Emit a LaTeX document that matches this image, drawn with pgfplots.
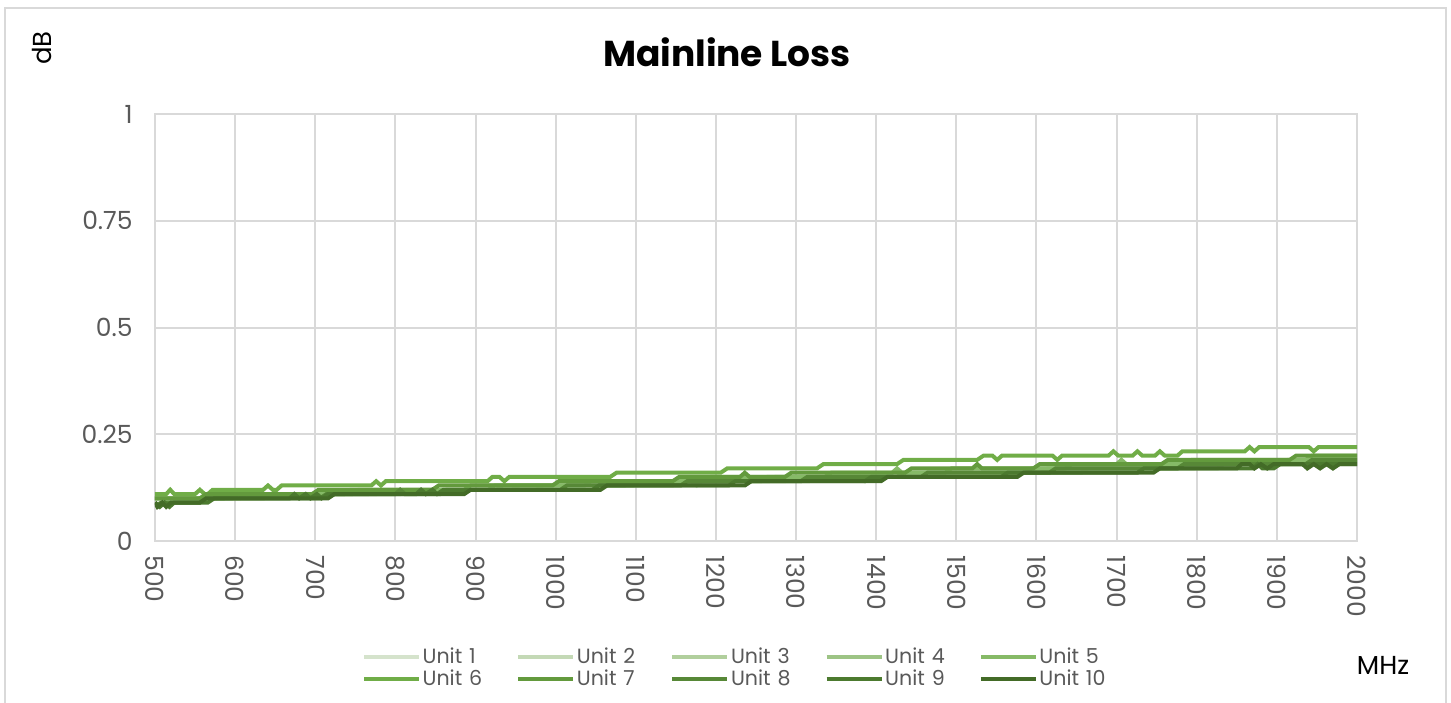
\documentclass[border=0pt]{standalone}
\usepackage{fontspec}
\setmainfont{Poppins}
\usepackage{pgfplots}
\pgfplotsset{compat=1.18}
\definecolor{gridc}{HTML}{D9D9D9}
\definecolor{tickc}{HTML}{595959}
\definecolor{u1}{HTML}{D5E3CC}
\definecolor{u2}{HTML}{C4D9B6}
\definecolor{u3}{HTML}{B1CF9D}
\definecolor{u4}{HTML}{9DC485}
\definecolor{u5}{HTML}{86BA67}
\definecolor{u6}{HTML}{70AD47}
\definecolor{u7}{HTML}{639A3D}
\definecolor{u8}{HTML}{578837}
\definecolor{u9}{HTML}{4C7A2F}
\definecolor{u10}{HTML}{436B27}
\begin{document}
\begin{tikzpicture}
\useasboundingbox (-77.5pt,-80.5pt) rectangle (648pt,270.5pt);
\draw[gridc, line width=0.75pt] (-75pt,-82pt) -- (-75pt,266.5pt) -- (645.5pt,266.5pt) -- (645.5pt,-82pt);
\begin{axis}[
 scale only axis, width=601pt, height=213.5pt,
 xmin=500, xmax=2000, ymin=0, ymax=1,
 xtick={500,600,...,2000}, ytick={0,0.25,0.5,0.75,1},
 grid=major, major grid style={gridc, line width=1pt},
 axis line style={gridc, line width=1pt},
 major tick length=0pt,
 tick label style={font=\fontsize{12.5}{14}\selectfont, text=tickc},
 /pgf/number format/assume math mode=true,
 /pgf/number format/1000 sep={},
 xticklabel style={rotate=-90, anchor=west, inner xsep=7pt},
 yticklabel style={anchor=east, inner xsep=11pt},
 legend columns=5,
 legend style={at={(axis description cs:0.4933,-0.2974)}, anchor=center, draw=none, fill=none,
   font=\fontsize{10.3}{11}\selectfont, text=tickc, row sep=2pt, column sep=0pt,
   nodes={text width=46pt, inner sep=1pt, text height=7pt, text depth=0pt}},
 legend image code/.code={\draw[#1, line width=1.6pt] (0pt,0pt) -- (27.5pt,0pt);},
 every axis plot/.append style={line width=2pt},
]
\addplot[u1] coordinates {(500,0.10)(606,0.10)(614,0.11)(776,0.11)(784,0.12)(946,0.12)(954,0.13)(1116,0.13)(1124,0.14)(1170,0.14)(1176,0.13)(1182,0.14)(1286,0.14)(1294,0.15)(1380,0.15)(1386,0.14)(1394,0.15)(1456,0.15)(1464,0.16)(1626,0.16)(1634,0.17)(1796,0.17)(1804,0.18)(1936,0.18)(1944,0.19)(2000,0.19)};
\addlegendentry{Unit 1}
\addplot[u2] coordinates {(500,0.10)(636,0.10)(644,0.11)(806,0.11)(814,0.12)(976,0.12)(984,0.13)(1146,0.13)(1154,0.14)(1316,0.14)(1324,0.15)(1486,0.15)(1494,0.16)(1656,0.16)(1664,0.17)(1826,0.17)(1834,0.18)(1960,0.18)(1968,0.19)(2000,0.19)};
\addlegendentry{Unit 2}
\addplot[u3] coordinates {(500,0.10)(596,0.10)(604,0.11)(766,0.11)(774,0.12)(926,0.12)(934,0.13)(1096,0.13)(1104,0.14)(1266,0.14)(1274,0.15)(1436,0.15)(1444,0.16)(1606,0.16)(1614,0.17)(1776,0.17)(1784,0.18)(1946,0.18)(1954,0.19)(2000,0.19)};
\addlegendentry{Unit 3}
\addplot[u4] coordinates {(500,0.10)(576,0.10)(584,0.11)(746,0.11)(754,0.12)(916,0.12)(924,0.13)(1086,0.13)(1094,0.14)(1256,0.14)(1264,0.15)(1426,0.15)(1434,0.16)(1586,0.16)(1594,0.17)(1746,0.17)(1754,0.18)(1906,0.18)(1914,0.19)(2000,0.19)};
\addlegendentry{Unit 4}
\addplot[u5] coordinates {(500,0.10)(586,0.10)(594,0.11)(736,0.11)(744,0.12)(886,0.12)(894,0.13)(1036,0.13)(1044,0.14)(1186,0.14)(1194,0.15)(1336,0.15)(1344,0.16)(1420,0.16)(1426,0.17)(1432,0.16)(1486,0.16)(1494,0.17)(1636,0.17)(1644,0.18)(1700,0.18)(1706,0.19)(1712,0.18)(1786,0.18)(1794,0.19)(1936,0.19)(1944,0.20)(2000,0.20)};
\addlegendentry{Unit 5}
\addplot[u6] coordinates {(500,0.11)(514,0.11)(519,0.12)(524,0.11)(550,0.11)(556,0.12)(562,0.11)(566,0.11)(572,0.12)(635,0.12)(641,0.13)(647,0.12)(652,0.12)(658,0.13)(770,0.13)(776,0.14)(782,0.13)(788,0.14)(915,0.14)(921,0.15)(930,0.15)(936,0.14)(942,0.15)(1068,0.15)(1076,0.16)(1206,0.16)(1214,0.17)(1326,0.17)(1334,0.18)(1426,0.18)(1434,0.19)(1526,0.19)(1534,0.20)(1545,0.20)(1551,0.19)(1557,0.20)(1620,0.20)(1626,0.19)(1632,0.20)(1690,0.20)(1696,0.21)(1702,0.20)(1720,0.20)(1726,0.21)(1732,0.20)(1748,0.20)(1754,0.21)(1760,0.20)(1776,0.20)(1782,0.21)(1860,0.21)(1866,0.22)(1872,0.21)(1878,0.22)(1940,0.22)(1946,0.21)(1952,0.22)(2000,0.22)};
\addlegendentry{Unit 6}
\addplot[u7] coordinates {(500,0.10)(556,0.10)(564,0.11)(696,0.11)(704,0.12)(846,0.12)(854,0.13)(996,0.13)(1004,0.14)(1146,0.14)(1154,0.15)(1230,0.15)(1236,0.16)(1242,0.15)(1286,0.15)(1294,0.16)(1436,0.16)(1444,0.17)(1520,0.17)(1526,0.18)(1532,0.17)(1596,0.17)(1604,0.18)(1756,0.18)(1764,0.19)(1916,0.19)(1924,0.20)(2000,0.20)};
\addlegendentry{Unit 7}
\addplot[u8] coordinates {(500,0.09)(503,0.085)(508,0.09)(556,0.09)(564,0.10)(706,0.10)(714,0.11)(800,0.11)(806,0.12)(812,0.11)(856,0.11)(864,0.12)(1006,0.12)(1014,0.13)(1156,0.13)(1164,0.14)(1306,0.14)(1314,0.15)(1456,0.15)(1464,0.16)(1616,0.16)(1624,0.17)(1776,0.17)(1784,0.18)(1936,0.18)(1944,0.19)(2000,0.19)};
\addlegendentry{Unit 8}
\addplot[u9] coordinates {(500,0.09)(506,0.08)(512,0.09)(518,0.08)(524,0.09)(566,0.09)(574,0.10)(668,0.10)(674,0.11)(680,0.10)(688,0.11)(694,0.10)(702,0.11)(708,0.10)(716,0.11)(826,0.11)(832,0.12)(838,0.11)(846,0.12)(852,0.11)(860,0.12)(1046,0.12)(1054,0.13)(1216,0.13)(1224,0.14)(1386,0.14)(1394,0.15)(1556,0.15)(1564,0.16)(1726,0.16)(1734,0.17)(1870,0.17)(1876,0.18)(1882,0.17)(1896,0.17)(1904,0.18)(2000,0.18)};
\addlegendentry{Unit 9}
\addplot[u10] coordinates {(500,0.09)(503,0.08)(509,0.09)(514,0.08)(520,0.09)(556,0.09)(564,0.10)(716,0.10)(724,0.11)(886,0.11)(894,0.12)(1056,0.12)(1064,0.13)(1236,0.13)(1244,0.14)(1406,0.14)(1414,0.15)(1576,0.15)(1584,0.16)(1746,0.16)(1754,0.17)(1850,0.17)(1856,0.18)(1866,0.18)(1872,0.17)(1880,0.18)(1888,0.17)(1896,0.18)(1932,0.18)(1938,0.17)(1946,0.18)(1954,0.17)(1962,0.18)(1970,0.17)(1978,0.18)(2000,0.18)};
\addlegendentry{Unit 10}
\end{axis}
\node[font=\bfseries\fontsize{18}{20}\selectfont] at (286pt,244.5pt) {Mainline Loss};
\node[rotate=90, font=\fontsize{13}{15}\selectfont] at (-56.5pt,246.5pt) {dB};
\node[font=\fontsize{13}{15}\selectfont] at (614pt,-62pt) {MHz};
\end{tikzpicture}
\end{document}
